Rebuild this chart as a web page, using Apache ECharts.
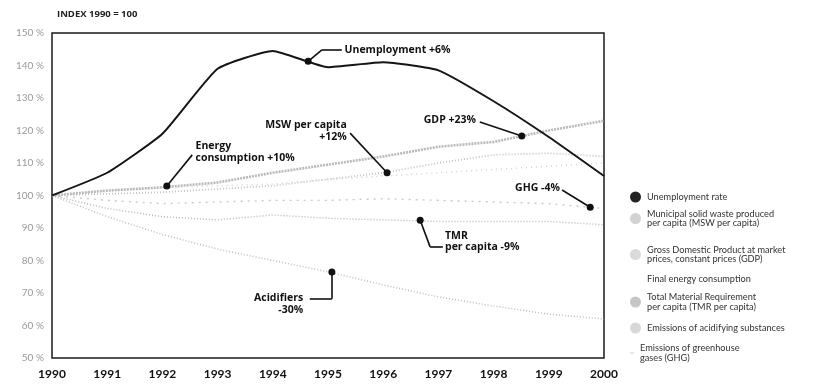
<!DOCTYPE html>
<html>
<head>
<meta charset="utf-8">
<script src="https://cdn.jsdelivr.net/npm/echarts@6/dist/echarts.min.js"></script>
<style>
  html, body { margin: 0; padding: 0; background: #fff; }
  #chart { width: 813px; height: 385px; }
</style>
</head>
<body>
<div id="chart"></div>
<script>
// Index values, 1990 = 100
const years = [1990, 1991, 1992, 1993, 1994, 1995, 1996, 1997, 1998, 1999, 2000];
const unemployment = [100, 107, 119, 139, 144.5, 139.5, 141, 138.5, 129, 118, 106];
const msw          = [100, 100.5, 101, 102, 103, 105, 107, 110, 112.5, 113, 112];
const gdp          = [100, 101.5, 102.5, 104, 107, 109.5, 112, 115, 116.5, 120, 123];
const energy       = [100, 101.5, 102.5, 103, 103.5, 105, 106, 107, 108, 109, 110];
const tmr          = [100, 96, 93.5, 92.5, 94, 93, 92.5, 92, 92, 92, 91];
const acidifiers   = [100, 93.5, 88, 83.5, 80, 76.5, 72.5, 68.8, 66, 63.5, 62];
const ghg          = [100, 98.5, 97.5, 98, 98.5, 98.5, 99, 98.5, 98, 97.5, 96];

const yTicks = [50, 60, 70, 80, 90, 100, 110, 120, 130, 140, 150];

const names = {
  unemp: 'Unemployment rate',
  msw: 'Municipal solid waste produced\nper capita (MSW per capita)',
  gdp: 'Gross Domestic Product at market\nprices, constant prices (GDP)',
  energy: 'Final energy consumption',
  tmr: 'Total Material Requirement\nper capita (TMR per capita)',
  acid: 'Emissions of acidifying substances',
  ghg: 'Emissions of greenhouse\ngases (GHG)'
};

const FONT = 'Lato, "Open Sans", sans-serif';
const BOLD_FONT = '"Open Sans", Lato, sans-serif';
const pairs = (vals) => years.map((y, i) => [y, vals[i]]);

// Annotation callouts: dot on the line, leader line, bold caption
function callout(dot, path, caption, anchor, align) {
  const segs = [];
  const pts = [dot].concat(path);
  for (let i = 0; i < pts.length - 1; i++) {
    segs.push([{ coord: pts[i] }, { coord: pts[i + 1] }]);
  }
  return {
    markLine: {
      silent: true, symbol: 'none', animation: false,
      lineStyle: { color: '#111', width: 1.6, type: 'solid' },
      label: { show: false },
      data: segs
    },
    markPoint: {
      silent: true, animation: false,
      data: [
        { coord: dot, symbol: 'circle', symbolSize: 7, itemStyle: { color: '#111' }, label: { show: false } },
        { coord: anchor, symbol: 'circle', symbolSize: 0,
          label: { show: true, position: 'inside', formatter: caption, align: align, verticalAlign: 'middle',
                   color: '#111', fontFamily: BOLD_FONT, fontWeight: 'bold', fontSize: 10.5, lineHeight: 11.5 } }
      ]
    }
  };
}

function lineSeries(name, vals, style, extra) {
  return Object.assign({
    name: name, type: 'line', data: pairs(vals), symbol: 'none', silent: true,
    lineStyle: style, itemStyle: { color: style.color }, z: 2
  }, extra || {});
}

const series = [
  lineSeries(names.ghg, ghg, { color: '#c9c9c9', width: 1.4, type: [2, 5] },
    callout([1999.75, 96.4], [[1999.24, 101.7]], 'GHG -4%', [1999.2, 102.2], 'right')),
  lineSeries(names.acid, acidifiers, { color: '#bdbdbd', width: 1.5, type: [1, 2] },
    callout([1995.07, 76.5], [[1995.07, 68.2], [1994.67, 68.2]], 'Acidifiers\n-30%', [1994.55, 66.6], 'right')),
  lineSeries(names.tmr, tmr, { color: '#b8b8b8', width: 1.5, type: [1, 2] },
    callout([1996.67, 92.4], [[1996.85, 84.2], [1997.08, 84.2]], 'TMR\nper capita -9%', [1997.12, 85.8], 'left')),
  lineSeries(names.energy, energy, { color: '#cdcdcd', width: 1.4, type: [1, 4] },
    callout([1992.08, 102.9], [[1992.54, 112.5]], 'Energy\nconsumption +10%', [1992.6, 113.4], 'left')),
  lineSeries(names.gdp, gdp, { color: '#bababa', width: 2.6, type: [2, 1] },
    callout([1998.51, 118.3], [[1997.75, 122.6]], 'GDP +23%', [1997.68, 123.3], 'right')),
  lineSeries(names.msw, msw, { color: '#c2c2c2', width: 1.8, type: [1, 2] },
    callout([1996.07, 107], [[1995.4, 119.2]], 'MSW per capita\n+12%', [1995.34, 119.8], 'right')),
  lineSeries(names.unemp, unemployment, { color: '#151515', width: 2 },
    Object.assign({ smooth: 0.15, z: 3 },
      callout([1994.64, 141.3], [[1994.89, 144.8], [1995.25, 144.8]], 'Unemployment +6%', [1995.3, 144.9], 'left')))
];

// Legend entries, each placed on its own row
const legendRows = [
  { name: names.unemp,  top: 191.5, icon: 'circle', color: '#222' },
  { name: names.msw,    top: 209,   icon: 'circle', color: '#d2d2d2' },
  { name: names.gdp,    top: 245,   icon: 'circle', color: '#dadada' },
  { name: names.energy, top: 273.5, icon: 'circle', color: 'rgba(0,0,0,0)' },
  { name: names.tmr,    top: 292.5, icon: 'circle', color: '#c6c6c6' },
  { name: names.acid,   top: 322.5, icon: 'circle', color: '#d8d8d8' },
  { name: names.ghg,    top: 343.5, icon: 'rect',   color: '#cfcfcf', w: 4, h: 1 }
];

const legends = legendRows.map(r => ({
  data: [{ name: r.name, icon: r.icon, itemStyle: { color: r.color, borderWidth: 0 } }],
  left: 630, top: r.top, padding: 0, orient: 'vertical',
  itemWidth: r.w || 11, itemHeight: r.h || 11, itemGap: 0,
  selectedMode: false,
  textStyle: { fontFamily: FONT, fontSize: 9.2, color: '#333', lineHeight: 9.5, padding: [0, 0, 0, 1] }
}));

const chart = echarts.init(document.getElementById('chart'), null, { renderer: 'canvas' });
chart.setOption({
  animation: false,
  backgroundColor: '#fff',
  title: {
    text: 'INDEX 1990 = 100', left: 52, top: 4,
    textStyle: { fontFamily: BOLD_FONT, fontSize: 9.5, fontWeight: 'bold', color: '#222' }
  },
  legend: legends,
  grid: { left: 52, right: 209, top: 33, bottom: 27, show: true, borderColor: '#1a1a1a', borderWidth: 1.5, backgroundColor: 'transparent' },
  xAxis: {
    type: 'value', min: 1990, max: 2000, interval: 1,
    axisLine: { show: false }, axisTick: { show: false }, splitLine: { show: false },
    axisLabel: { fontFamily: FONT, fontSize: 12, fontWeight: 'bold', color: '#111', margin: 10, formatter: v => String(v) }
  },
  yAxis: {
    type: 'value', min: yTicks[0], max: yTicks[yTicks.length - 1], interval: 10,
    axisLine: { show: false }, axisTick: { show: false }, splitLine: { show: false },
    axisLabel: { fontFamily: FONT, fontSize: 10, color: '#9a9a9a', margin: 8, formatter: '{value} %' }
  },
  series: series
});
</script>
</body>
</html>
